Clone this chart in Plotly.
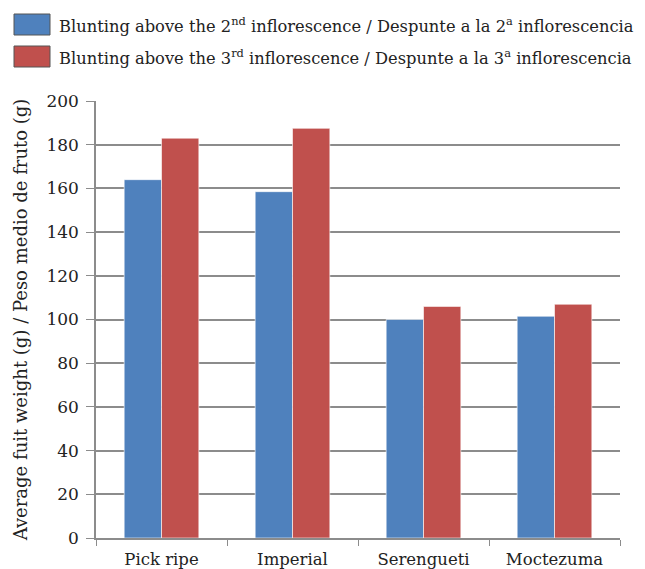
import plotly.graph_objects as go

categories = ["Pick ripe", "Imperial", "Serengueti", "Moctezuma"]
series_names = [
    "Blunting above the 2<sup>nd</sup> inflorescence / Despunte a la 2<sup>a</sup> inflorescencia",
    "Blunting above the 3<sup>rd</sup> inflorescence / Despunte a la 3<sup>a</sup> inflorescencia",
]
blunt_2nd = [164, 158.5, 100, 101.5]
blunt_3rd = [183, 187.5, 106, 107]
colors = ["#4F81BD", "#C0504D"]
y_ticks = [0, 20, 40, 60, 80, 100, 120, 140, 160, 180, 200]

FONT = "DejaVu Serif"
FS = 16.5
OFF = 8  # page body margin offset

# desired screen geometry
SL, SR, ST, SB = 96, 620, 101, 538
L, T = SL - OFF, ST - OFF
R = 645 - (SR - OFF)
B = 569 - (SB - OFF)
H_plot = 569 - T - B
W_plot = 645 - L - R


def py(pix):
    return (569 - B - (pix - OFF)) / H_plot


def px(pix):
    return (pix - OFF - L) / W_plot


fig = go.Figure()
for name, vals, col in zip(series_names, [blunt_2nd, blunt_3rd], colors):
    fig.add_trace(go.Bar(
        x=categories, y=vals, name=name, marker_color=col,
        marker_line=dict(color="rgba(255,255,255,0.6)", width=1),
        showlegend=False,
    ))

for i, (name, col) in enumerate(zip(series_names, colors)):
    top = 14 + 32 * i
    fig.add_shape(type="rect", xref="paper", yref="paper",
                  x0=px(14), x1=px(50), y0=py(top), y1=py(top + 21),
                  fillcolor=col, line=dict(color="#555555", width=1))
    fig.add_annotation(xref="paper", yref="paper", x=px(57), y=py(top + 10.5),
                       xanchor="left", yanchor="middle", showarrow=False,
                       text=name, font=dict(family=FONT, size=16.3, color="#222"))

fig.update_layout(
    width=645, height=569,
    margin=dict(l=L, r=R, t=T, b=B, autoexpand=False),
    paper_bgcolor="white", plot_bgcolor="white",
    barmode="group", bargap=0.43, bargroupgap=0,
    font=dict(family=FONT, size=FS, color="#222"),
)
fig.update_yaxes(
    range=[0, 200], tickvals=y_ticks, ticks="outside", ticklen=8,
    tickcolor="#8c8c8c", showgrid=True, gridcolor="#8c8c8c", gridwidth=1.5,
    showline=True, linecolor="#8c8c8c", linewidth=1.5, zeroline=False,
    automargin=False, ticklabelstandoff=4,
    title=dict(text="Average fuit weight (g) / Peso medio de fruto (g)",
               font=dict(family=FONT, size=18), standoff=14),
    tickfont=dict(family=FONT, size=17),
)
fig.update_xaxes(
    ticks="outside", tickson="boundaries", ticklen=6, tickcolor="#8c8c8c",
    showline=True, linecolor="#8c8c8c", linewidth=1.5, automargin=False,
    ticklabelstandoff=5,
    tickfont=dict(family=FONT, size=FS),
)

fig.write_html("out.html")
